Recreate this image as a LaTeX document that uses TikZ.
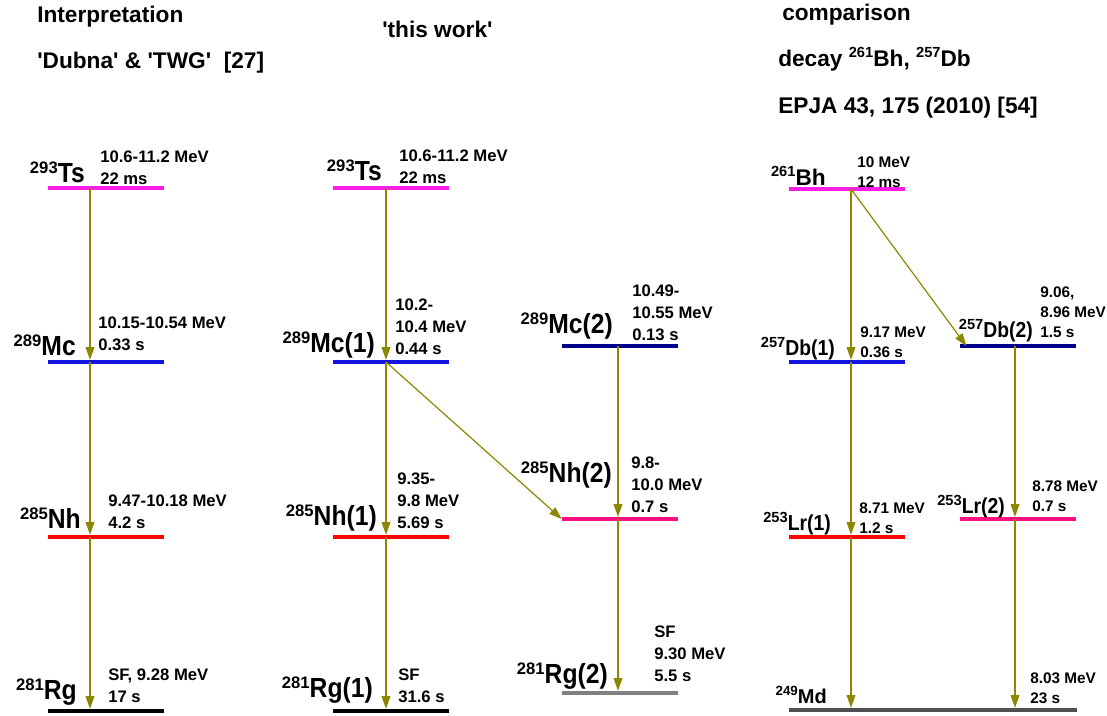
\documentclass[tikz,border=0pt]{standalone}
\usepackage{fontspec}
\setmainfont{Liberation Sans}[Ligatures=TeXOff]
\usetikzlibrary{arrows.meta}
\definecolor{lvlmag}{RGB}{250,30,230}
\definecolor{lvlblue}{RGB}{20,20,225}
\definecolor{lvlnavy}{RGB}{0,0,140}
\definecolor{lvlred}{RGB}{255,0,0}
\definecolor{lvlpink}{RGB}{255,15,130}
\definecolor{lvlgray}{RGB}{128,128,128}
\definecolor{lvldark}{RGB}{80,80,80}
\newcommand{\iso}[4]{\raisebox{#1}{\fontsize{#2}{#2}\selectfont #3}#4}
\newcommand{\tall}[1]{\scalebox{1}[1.12]{#1}}

\begin{document}
\begin{tikzpicture}[x=0.75pt, y=-0.75pt,
	level/.style={fill=#1, minimum width=87pt, minimum height=2.8pt, inner sep=0pt},
	decay/.style={draw=olive, line width=0.9pt, -{Triangle[length=9.5pt,width=6.5pt]}},
	nucl/.style={anchor=base east, inner sep=0pt, font=\fontsize{18.5}{22}\selectfont\bfseries},
	nuclsm/.style={anchor=base east, inner sep=0pt, font=\fontsize{14.5}{18}\selectfont\bfseries},
	info/.style={anchor=base west, inner sep=0pt, align=left, font=\fontsize{12.5}{16.5}\selectfont\bfseries},
	infosm/.style={anchor=base west, inner sep=0pt, align=left, font=\fontsize{11.5}{15}\selectfont\bfseries},
	head/.style={anchor=base west, inner sep=0pt, font=\fontsize{17}{20}\selectfont\bfseries}]
	\useasboundingbox (0,0) rectangle (1107,715);
	
	\node[head] (head1) at (37,22) {Interpretation};
	\node[head] (head2) at (37,68) {'Dubna' \& 'TWG'\ \ [27]};
	\node[head] (head3) at (382,37) {'this work'};
	\node[head] (head4) at (782,20) {comparison};
	\node[head] (head5) at (778,66) {decay \iso{6.5pt}{11}{261}{Bh}, \iso{6.5pt}{11}{257}{Db}};
	\node[head] (head6) at (778,113) {EPJA 43, 175 (2010) [54]};
	
	\node[level=lvlmag] (ts1) at (106,188) {};
	\node[level=lvlblue] (mc1) at (106,362) {};
	\node[level=lvlred] (nh1) at (106,537) {};
	\node[level=black] (rg1) at (106,711) {};
	
	\node[level=lvlmag] (ts2) at (391,188) {};
	\node[level=lvlblue] (mc2) at (391,362) {};
	\node[level=lvlred] (nh2) at (391,537) {};
	\node[level=black] (rg2) at (391,711) {};
	
	\node[level=lvlnavy] (mc3) at (620,346) {};
	\node[level=lvlpink] (nh3) at (620,519) {};
	\node[level=lvlgray] (rg3) at (620,693) {};
	
	\node[level=lvlmag] (bh) at (847,189) {};
	\node[level=lvlblue] (db1) at (847,362) {};
	\node[level=lvlnavy] (db2) at (1018,346) {};
	\node[level=lvlred] (lr1) at (847,537) {};
	\node[level=lvlpink] (lr2) at (1018,519) {};
	\node[level=lvldark, minimum width=216pt] (md) at (933,710) {};
	
	\coordinate (x1) at (90,0);
	\coordinate (x2) at (386,0);
	\coordinate (x3) at (618,0);
	\coordinate (x4) at (851,0);
	\coordinate (x5) at (1015,0);
	
	\draw[decay] (x1 |- ts1) -- (x1 |- mc1.north);
	\draw[decay] (x1 |- mc1) -- (x1 |- nh1.north);
	\draw[decay] (x1 |- nh1) -- (x1 |- rg1.north);
	
	\draw[decay] (x2 |- ts2) -- (x2 |- mc2.north);
	\draw[decay] (x2 |- mc2) -- (x2 |- nh2.north);
	\draw[decay] (x2 |- nh2) -- (x2 |- rg2.north);
	\draw[decay] (x2 |- mc2) -- (nh3.west);
	\draw[decay] (x3 |- mc3) -- (x3 |- nh3.north);
	\draw[decay] (x3 |- nh3) -- (x3 |- rg3.north);
	
	\draw[decay] (x4 |- bh) -- (x4 |- db1.north);
	\draw[decay] (x4 |- bh) -- ([xshift=5pt]db2.west);
	\draw[decay] (x4 |- db1) -- (x4 |- lr1.north);
	\draw[decay] (x4 |- lr1) -- (x4 |- md.north);
	\draw[decay] (x5 |- db2) -- (x5 |- lr2.north);
	\draw[decay] (x5 |- lr2) -- (x5 |- md.north);
	
	\node[nucl] (ts1l) at (85,182) {\iso{6.5pt}{12.5}{293}{\tall{Ts}}};
	\node[nucl] (mc1l) at (76,355) {\iso{6.5pt}{12.5}{289}{\tall{Mc}}};
	\node[nucl] (nh1l) at (81,528) {\iso{6.5pt}{12.5}{285}{\tall{Nh}}};
	\node[nucl] (rg1l) at (77,699) {\iso{6.5pt}{12.5}{281}{\tall{Rg}}};
	\node[info] (ts1d) at (100,184) {10.6-11.2 MeV\\22 ms};
	\node[info] (mc1d) at (98,350) {10.15-10.54 MeV\\0.33 s};
	\node[info] (nh1d) at (108,528) {9.47-10.18 MeV\\4.2 s};
	\node[info] (rg1d) at (108,702) {SF, 9.28 MeV\\17 s};
	
	\node[nucl] (ts2l) at (382,180) {\iso{6.5pt}{12.5}{293}{\tall{Ts}}};
	\node[nucl] (mc2l) at (375,352) {\iso{6.5pt}{12.5}{289}{\tall{Mc(1)}}};
	\node[nucl] (nh2l) at (377,525) {\iso{6.5pt}{12.5}{285}{\tall{Nh(1)}}};
	\node[nucl] (rg2l) at (373,697) {\iso{6.5pt}{12.5}{281}{\tall{Rg(1)}}};
	\node[info] (ts2d) at (399,183) {10.6-11.2 MeV\\22 ms};
	\node[info] (mc2d) at (395,354) {10.2-\\10.4 MeV\\0.44 s};
	\node[info] (nh2d) at (397,528) {9.35-\\9.8 MeV\\5.69 s};
	\node[info] (rg2d) at (398,702) {SF\\31.6 s};
	
	\node[nucl] (mc3l) at (613,333) {\iso{6.5pt}{12.5}{289}{\tall{Mc(2)}}};
	\node[nucl] (nh3l) at (612,482) {\iso{6.5pt}{12.5}{285}{\tall{Nh(2)}}};
	\node[nucl] (rg3l) at (608,683) {\iso{6.5pt}{12.5}{281}{\tall{Rg(2)}}};
	\node[info] (mc3d) at (632,340) {10.49-\\10.55 MeV\\0.13 s};
	\node[info] (nh3d) at (631,512) {9.8-\\10.0 MeV\\0.7 s};
	\node[info] (rg3d) at (654,681) {SF\\9.30 MeV\\5.5 s};
	
	\node[nucl, font=\fontsize{17}{20}\selectfont\bfseries] (bhl) at (826,185) {\iso{6.5pt}{11}{261}{Bh}};
	\node[nuclsm] (db1l) at (835,355) {\iso{6pt}{11}{257}{\tall{Db(1)}}};
	\node[nuclsm] (db2l) at (1033,337) {\iso{6pt}{11}{257}{\tall{Db(2)}}};
	\node[nuclsm] (lr1l) at (831,530) {\iso{6pt}{11}{253}{\tall{Lr(1)}}};
	\node[nuclsm] (lr2l) at (1005,513) {\iso{6pt}{11}{253}{\tall{Lr(2)}}};
	\node[nuclsm, font=\fontsize{15}{18}\selectfont\bfseries] (mdl) at (827,703) {\iso{6pt}{10}{249}{Md}};
	\node[infosm] (bhd) at (857,187) {10 MeV\\12 ms};
	\node[infosm] (db1d) at (860,357) {9.17 MeV\\0.36 s};
	\node[infosm] (db2d) at (1040,337) {9.06,\\8.96 MeV\\1.5 s};
	\node[infosm] (lr1d) at (859,533) {8.71 MeV\\1.2 s};
	\node[infosm] (lr2d) at (1032,511) {8.78 MeV\\0.7 s};
	\node[infosm] (mdd) at (1030,703) {8.03 MeV\\23 s};
\end{tikzpicture}
\end{document}
